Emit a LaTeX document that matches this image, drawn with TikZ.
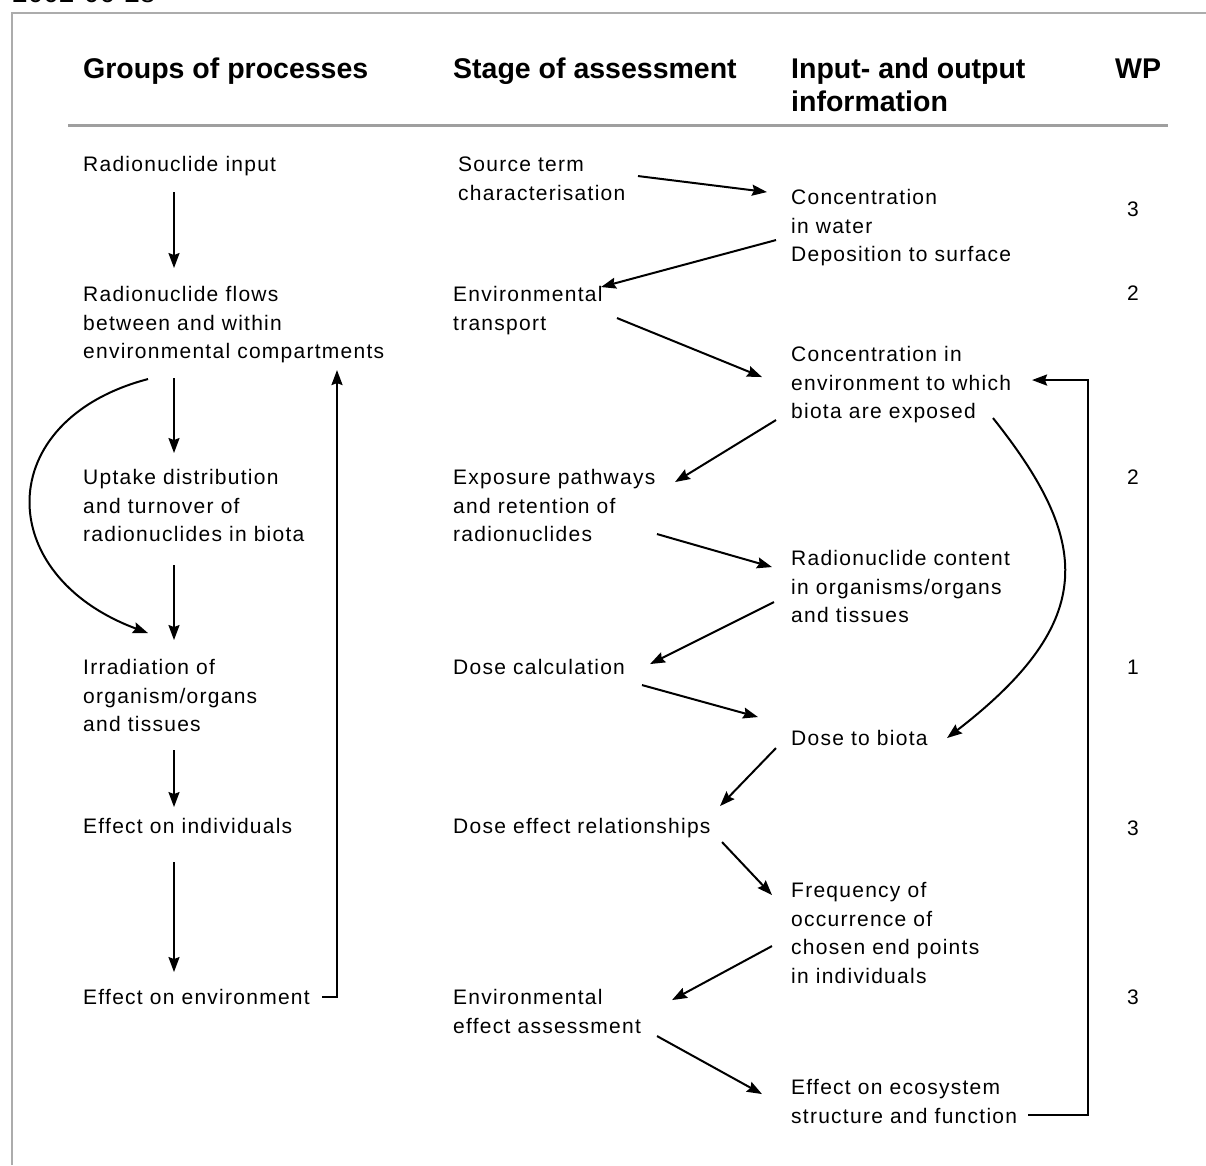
\documentclass[tikz,border=0pt]{standalone}
\usepackage{fontspec}
\setmainfont{Liberation Sans}
\newfontfamily\bodyfont{Liberation Sans}[LetterSpace=6.0]
\usetikzlibrary{arrows.meta}

\tikzset{
  txt/.style={anchor=north west, yshift=19.95pt, inner sep=0pt, align=left,
    font=\bodyfont\fontsize{21}{28.5}\selectfont},
  wpnum/.style={anchor=north, yshift=19.95pt, inner sep=0pt,
    font=\bodyfont\fontsize{21}{28.5}\selectfont},
  head/.style={anchor=north west, yshift=23.1pt, inner sep=0pt, align=left,
    font=\fontsize{28.5}{33}\selectfont\bfseries},
  flow/.style={line width=2pt, -{Stealth[length=15pt,width=11pt,inset=2pt]}},
  loopback/.style={line width=2.2pt, -{Stealth[length=15pt,width=11pt,inset=2pt]}},
}

\begin{document}
\begin{tikzpicture}[x=1pt, y=-1pt]
\useasboundingbox (0,0) rectangle (1206,1165);

% page header date and frame
\node[anchor=base west, inner sep=0pt, font=\fontsize{28}{30}\selectfont] (date) at (12,2) {2002-06-28};
\draw[gray!65, line width=1.4pt] (12,1165) -- (12,13) -- (1206,13);

% column headings (a strut on the first line fixes each node's top edge)
\node[head] (h1) at (83,78) {\strut Groups of processes};
\node[head] (h2) at (453,78) {\strut Stage of assessment};
\node[head] (h3) at (791,78) {\strut Input- and output\\information};
\node[head] (h4) at (1115,78) {\strut WP};
\draw[gray!75, line width=3pt] (68,125) -- (1168,125);

% groups of processes
\node[txt] (g1) at (83,171.5) {\strut Radionuclide input};
\node[txt] (g2) at (83,301.5) {\strut Radionuclide flows\\between and within\\environmental compartments};
\node[txt] (g3) at (83,484.5) {\strut Uptake distribution\\and turnover of\\radionuclides in biota};
\node[txt] (g4) at (83,674.5) {\strut Irradiation of\\organism/organs\\and tissues};
\node[txt] (g5) at (83,833.5) {\strut Effect on individuals};
\node[txt] (g6) at (83,1004.5) {\strut Effect on environment};

% stages of assessment
\node[txt] (s1) at (458,171.5) {\strut Source term\\characterisation};
\node[txt] (s2) at (453,301.5) {\strut Environmental\\transport};
\node[txt] (s3) at (453,484.5) {\strut Exposure pathways\\and retention of\\radionuclides};
\node[txt] (s4) at (453,674.5) {\strut Dose calculation};
\node[txt] (s5) at (453,833.5) {\strut Dose effect relationships};
\node[txt] (s6) at (453,1004.5) {\strut Environmental\\effect assessment};

% input and output information
\node[txt] (i1) at (791,204.5) {\strut Concentration\\in water\\Deposition to surface};
\node[txt] (i2) at (791,361.5) {\strut Concentration in\\environment to which\\biota are exposed};
\node[txt] (i3) at (791,565.5) {\strut Radionuclide content\\in organisms/organs\\and tissues};
\node[txt] (i4) at (791,745.5) {\strut Dose to biota};
\node[txt] (i5) at (791,897.5) {\strut Frequency of\\occurrence of\\chosen end points\\in individuals};
\node[txt] (i6) at (791,1094.5) {\strut Effect on ecosystem\\structure and function};

% work packages
\node[wpnum] (w1) at (1133,216.5) {\strut 3};
\node[wpnum] (w2) at (1133,300.5) {\strut 2};
\node[wpnum] (w3) at (1133,484.5) {\strut 2};
\node[wpnum] (w4) at (1133,674.5) {\strut 1};
\node[wpnum] (w5) at (1133,835.5) {\strut 3};
\node[wpnum] (w6) at (1133,1004.5) {\strut 3};

% chain of process groups
\draw[flow] ([shift={(91,40.5)}]g1.north west) -- ([shift={(91,-13.5)}]g2.north west);
\draw[flow] ([shift={(91,96.5)}]g2.north west) -- ([shift={(91,-11.5)}]g3.north west);
\draw[flow] ([shift={(91,100.5)}]g3.north west) -- ([shift={(91,-14.5)}]g4.north west);
\draw[flow] ([shift={(91,95.5)}]g4.north west) -- ([shift={(91,-6.5)}]g5.north west);
\draw[flow] ([shift={(91,48.5)}]g5.north west) -- ([shift={(91,-12.5)}]g6.north west);
\draw[flow] ([shift={(65,97.5)}]g2.north west)
  .. controls +(-156,41) and +(-156,-58) .. ([shift={(65,-21.5)}]g4.north west);
\draw[loopback] ([shift={(239,12.5)}]g6.north west) -| ([shift={(254,88.5)}]g2.north west);

% zig-zag between stages and information
\draw[flow] ([shift={(180,24.5)}]s1.north west) -- ([shift={(-24,7.5)}]i1.north west);
\draw[flow] ([shift={(-15,55.5)}]i1.north west) -- ([shift={(148,5.5)}]s2.north west);
\draw[flow] ([shift={(164,36.5)}]s2.north west) -- ([shift={(-29,35.5)}]i2.north west);
\draw[flow] ([shift={(-15,78.5)}]i2.north west) -- ([shift={(222,17.5)}]s3.north west);
\draw[flow] ([shift={(204,69.5)}]s3.north west) -- ([shift={(-19,21.5)}]i3.north west);
\draw[flow] ([shift={(-17,56.5)}]i3.north west) -- ([shift={(197,9.5)}]s4.north west);
\draw[flow] ([shift={(189,30.5)}]s4.north west) -- ([shift={(-33,-8.5)}]i4.north west);
\draw[flow] ([shift={(-15,22.5)}]i4.north west) -- ([shift={(267,-7.5)}]s5.north west);
\draw[flow] ([shift={(269,28.5)}]s5.north west) -- ([shift={(-19,17.5)}]i5.north west);
\draw[flow] ([shift={(-19,68.5)}]i5.north west) -- ([shift={(219,15.5)}]s6.north west);
\draw[flow] ([shift={(204,51.5)}]s6.north west) -- ([shift={(-29,19.5)}]i6.north west);
\draw[flow] ([shift={(202,76.5)}]i2.north west)
  .. controls +(97,122) and +(153,-118) .. ([shift={(156,12.5)}]i4.north west);
\draw[loopback] ([shift={(237,40.5)}]i6.north west) -- ++(60,0) |- ([shift={(241,38.5)}]i2.north west);
\end{tikzpicture}
\end{document}
